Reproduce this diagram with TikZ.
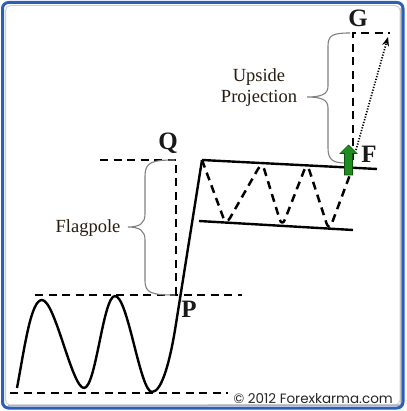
\documentclass[tikz,border=0pt]{standalone}
\usepackage{fontspec}
\setmainfont{Liberation Serif}
\newfontfamily\cpfont{Poppins}
\usetikzlibrary{arrows.meta}
\definecolor{frameblue}{RGB}{46,95,184}
\definecolor{txtcol}{RGB}{38,28,16}
\definecolor{arrgreen}{RGB}{30,140,30}
\definecolor{arrdark}{RGB}{14,80,14}
\tikzset{
  dashln/.style={line width=2.5pt, dash pattern=on 8pt off 5.5pt},
  solidln/.style={line width=2.4pt},
  bracestyle/.style={draw=black!50, line width=1.1pt},
  ptlabel/.style={font=\fontsize{25}{27}\selectfont\bfseries, text=black!90, inner sep=0pt, anchor=base},
  sidetext/.style={font=\fontsize{18.5}{21}\selectfont, text=txtcol, inner sep=0pt, align=center},
}
\begin{document}
\begin{tikzpicture}[x=1pt,y=-1pt]
\useasboundingbox (0,0) rectangle (406,411);
% frame
\draw[black!18, line width=1pt, rounded corners=5pt] (5.5,5.5) rectangle (400,405);
\draw[black!30, line width=1.5pt] (401,8) -- (401,405) -- (8,405.5);
\draw[frameblue, line width=3pt, rounded corners=6pt] (2.5,2.5) rectangle (403,408);

% key points
\coordinate (w0) at (17,388);
\coordinate (pk1) at (42,300);
\coordinate (tr1) at (84,388);
\coordinate (pk2) at (115,296);
\coordinate (tr2) at (152,392);
\coordinate (rise) at (175,330);
\coordinate (top) at (202,160);
\coordinate (upR) at (377,169);
\coordinate (loL) at (199,221);
\coordinate (loR) at (353,230);

% horizontal dashed levels
\coordinate (b0) at (10,393); \coordinate (b1) at (228,393);
\coordinate (p0) at (35,295); \coordinate (p1) at (242,295);
\coordinate (q0) at (100,160); \coordinate (q1) at (176,160); \coordinate (q2) at (176,295);
\draw[dashln] (b0) -- (b1);
\draw[dashln] (p0) -- (p1);
\draw[dashln] (q0) -- (q1) -- (q2);

% G lines
\coordinate (g0) at (353,160); \coordinate (g1) at (353,33); \coordinate (g2) at (390,33);
\draw[dashln] (g0) -- (g1) -- (g2);

% wave and pole
\draw[solidln, line join=round] (w0) .. controls (25,345) and (31,300) .. (pk1)
  .. controls (55,300) and (72,388) .. (tr1)
  .. controls (96,388) and (103,296) .. (pk2)
  .. controls (128,296) and (140,392) .. (tr2)
  .. controls (162,392) and (170,360) .. (rise) -- (top);

% flag lines
\draw[solidln] (top) -- (upR);
\draw[solidln] (loL) -- (loR);

% zigzag
\coordinate (z1) at (226,225); \coordinate (z2) at (262,162);
\coordinate (z3) at (282,227); \coordinate (z4) at (307,163);
\coordinate (z5) at (329,231); \coordinate (z6) at (351,172);
\draw[dashln, rounded corners=8pt, line join=round] (top) -- (z1) -- (z2) -- (z3) -- (z4) -- (z5) -- (z6);

% braces
\draw[bracestyle] (175,160) .. controls (152,160) and (145,162) .. (145,176) -- (145,214)
  .. controls (145,223) and (140,227) .. (128,227)
  .. controls (140,227) and (145,231) .. (145,240) -- (145,281)
  .. controls (145,293) and (152,295) .. (175,295);
\draw[bracestyle] (350,33) .. controls (333,33) and (328,35) .. (328,46) -- (328,86)
  .. controls (328,94) and (322,97) .. (307,97)
  .. controls (322,97) and (328,100) .. (328,108) -- (328,148)
  .. controls (328,160) and (333,163) .. (346,163);

% green arrow
\draw[arrdark, fill=arrgreen, line width=0.6pt] (344.5,175) -- (344.5,153.5) -- (340,153.5) -- (348.5,145) -- (357,153.5) -- (352.5,153.5) -- (352.5,175) -- cycle;

% dotted projection
\coordinate (d0) at (356,150); \coordinate (d1) at (388,37);
\draw[line width=1.7pt, dash pattern=on 1.2pt off 1.6pt, -{Stealth[length=9pt,width=7pt]}] (d0) -- (d1);

% labels
\node[ptlabel] (G) at (358,27) {G};
\node[ptlabel] (Q) at (168,150) {Q};
\node[ptlabel] (P) at (189,317) {P};
\node[ptlabel] (F) at (369,163) {F};
\node[sidetext, anchor=base] (flag) at (88,232) {Flagpole};
\node[sidetext, anchor=base] (ups) at (259,82) {Upside};
\node[sidetext, anchor=base] (proj) at (259,103) {Projection};
\node[font=\cpfont\fontsize{13.5}{15}\selectfont, text=black!85, inner sep=0pt, anchor=base east] (copy) at (393,403) {© 2012 Forexkarma.com};
\end{tikzpicture}
\end{document}
